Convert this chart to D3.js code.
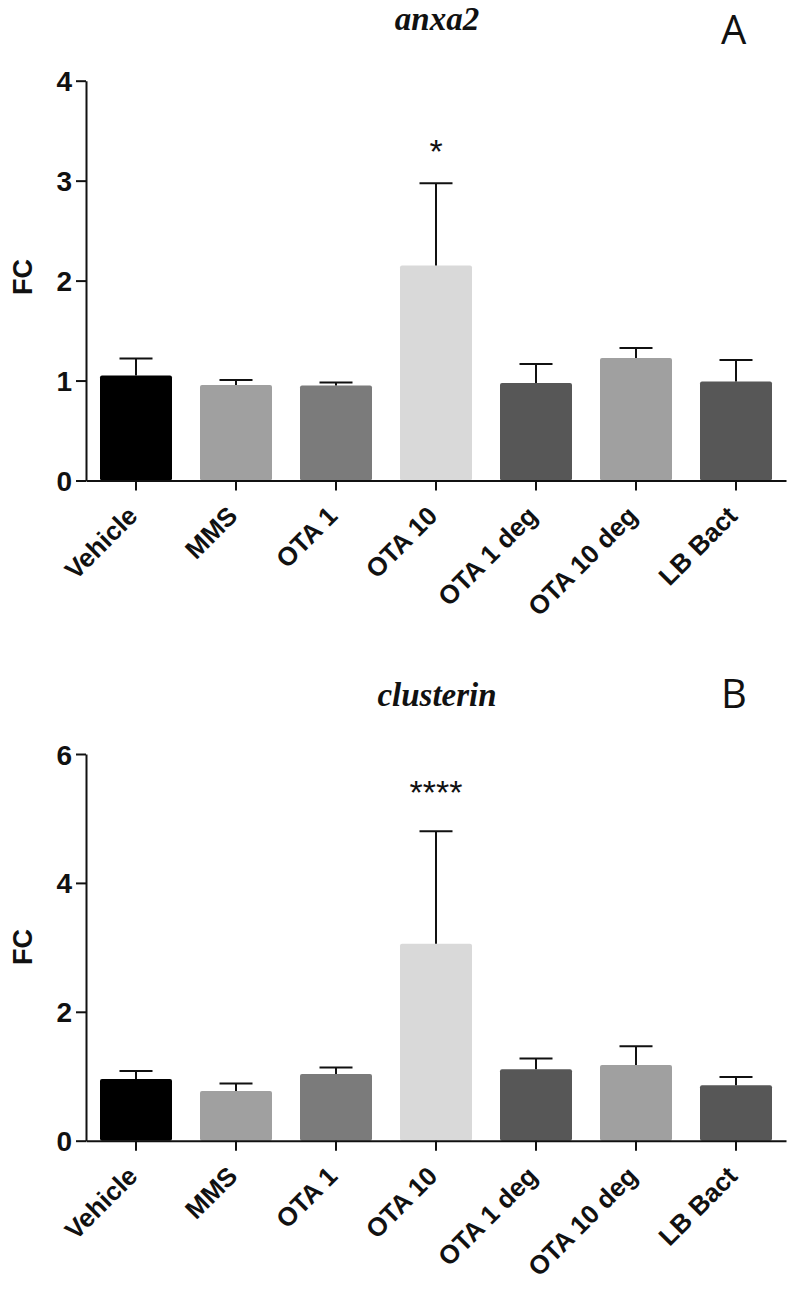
<!DOCTYPE html>
<html><head><meta charset="utf-8">
<script src="https://cdn.jsdelivr.net/npm/d3@7"></script>
<style>body{margin:0;background:#fff}</style>
</head><body><svg id="c" width="795" height="1291"></svg>
<script>
const categories = ["Vehicle","MMS","OTA 1","OTA 10","OTA 1 deg","OTA 10 deg","LB Bact"];
const barColors = ["#000000","#a0a0a0","#7b7b7b","#d9d9d9","#575757","#a0a0a0","#575757"];

const anxa2Mean = [1.05, 0.955, 0.95, 2.15, 0.975, 1.225, 0.99];
const anxa2Err  = [0.17, 0.05, 0.03, 0.825, 0.19, 0.10, 0.215];
const anxa2Ticks = [0, 1, 2, 3, 4];

const clusterinMean = [0.958, 0.772, 1.036, 3.054, 1.108, 1.175, 0.860];
const clusterinErr  = [0.124, 0.114, 0.098, 1.746, 0.166, 0.291, 0.130];
const clusterinTicks = [0, 2, 4, 6];

const svg = d3.select("#c");

function panel(cfg) {
  const g = svg.append("g");
  const x = d3.scaleBand().domain(categories).range([86, 786]).paddingInner(0.28).paddingOuter(0.14);
  const y = d3.scaleLinear().domain([0, d3.max(cfg.ticks)]).range([cfg.y0, cfg.yTop]);

  // bars
  g.selectAll("rect.bar").data(categories).join("rect")
    .attr("class","bar")
    .attr("x", d => x(d))
    .attr("width", x.bandwidth())
    .attr("y", (d,i) => y(cfg.mean[i]))
    .attr("height", (d,i) => y(0) - y(cfg.mean[i]))
    .attr("rx", 2)
    .attr("fill", (d,i) => barColors[i]);

  // error bars (upper only)
  const eb = g.selectAll("g.eb").data(categories).join("g").attr("class","eb")
    .attr("stroke","#111").attr("stroke-width",2);
  eb.append("line")
    .attr("x1", d => x(d) + x.bandwidth()/2).attr("x2", d => x(d) + x.bandwidth()/2)
    .attr("y1", (d,i) => y(cfg.mean[i])).attr("y2", (d,i) => y(cfg.mean[i] + cfg.err[i]));
  eb.append("line")
    .attr("x1", d => x(d) + x.bandwidth()/2 - 16.5).attr("x2", d => x(d) + x.bandwidth()/2 + 16.5)
    .attr("y1", (d,i) => y(cfg.mean[i] + cfg.err[i])).attr("y2", (d,i) => y(cfg.mean[i] + cfg.err[i]));

  // y axis
  const ya = g.append("g").attr("transform","translate(86,0)")
    .call(d3.axisLeft(y).tickValues(cfg.ticks).tickFormat(d3.format("d")).tickSize(10).tickSizeOuter(0).tickPadding(4));
  ya.selectAll("path,line").attr("stroke","#111").attr("stroke-width",2);
  ya.selectAll("text").attr("font-family","'Liberation Sans', Arial, sans-serif")
    .attr("font-weight","bold").attr("font-size",28).attr("fill","#111").attr("dy","0.36em");

  // x axis
  const xa = g.append("g").attr("transform",`translate(0,${cfg.y0})`)
    .call(d3.axisBottom(x).tickSize(10).tickSizeOuter(0));
  xa.selectAll("path,line").attr("stroke","#111").attr("stroke-width",2);
  xa.selectAll("text").attr("x",null).attr("y",null).attr("dy",null)
    .attr("transform","translate(3,37) rotate(-45)")
    .attr("text-anchor","end")
    .attr("font-family","'Liberation Sans', Arial, sans-serif")
    .attr("font-weight","bold").attr("font-size",26).attr("fill","#111");

  // y label
  g.append("text").attr("transform",`translate(32,${cfg.labelY}) rotate(-90)`)
    .attr("text-anchor","middle")
    .attr("font-family","'Liberation Sans', Arial, sans-serif")
    .attr("font-weight","bold").attr("font-size",27).attr("fill","#111").text("FC");

  // title
  g.append("text").attr("x",437).attr("y",cfg.titleY).attr("text-anchor","middle")
    .attr("font-family","'Liberation Serif', 'Times New Roman', serif")
    .attr("font-style","italic").attr("font-weight","bold").attr("font-size",33).attr("fill","#111")
    .text(cfg.title);

  // panel letter
  g.append("text").attr("x",721).attr("y",cfg.letterY)
    .attr("font-family","'Open Sans', sans-serif").attr("font-weight",400).attr("font-size",40).attr("fill","#111")
    .text(cfg.letter);

  // significance
  g.append("text").attr("x", x(cfg.sigCat) + x.bandwidth()/2).attr("y", cfg.sigY)
    .attr("text-anchor","middle")
    .attr("font-family","'Liberation Sans', Arial, sans-serif").attr("font-size",34).attr("fill","#111")
    .text(cfg.sig);
}

panel({mean: anxa2Mean, err: anxa2Err, ticks: anxa2Ticks, y0: 480.5, yTop: 80.7, labelY: 277,
  title: "anxa2", titleY: 30, letter: "A", letterY: 44, sigCat: "OTA 10", sig: "*", sigY: 163});
panel({mean: clusterinMean, err: clusterinErr, ticks: clusterinTicks, y0: 1140.7, yTop: 754, labelY: 947,
  title: "clusterin", titleY: 706, letter: "B", letterY: 708, sigCat: "OTA 10", sig: "****", sigY: 804});
</script>
</body></html>
